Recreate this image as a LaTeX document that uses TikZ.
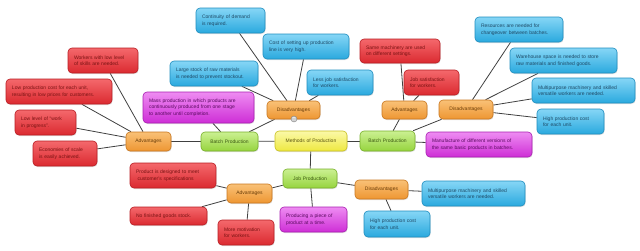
\documentclass[tikz,border=0pt]{standalone}
\usepackage{fontspec}
\setmainfont{Liberation Sans}
\usetikzlibrary{shadows,backgrounds}
\definecolor{redT}{HTML}{F4686C}\definecolor{redB}{HTML}{DB2A30}\definecolor{redD}{HTML}{B81C22}\definecolor{redX}{HTML}{7A1414}
\definecolor{bluT}{HTML}{86D6F6}\definecolor{bluB}{HTML}{2AA9DE}\definecolor{bluD}{HTML}{1E8DBF}\definecolor{bluX}{HTML}{1F4A66}
\definecolor{orgT}{HTML}{F9C177}\definecolor{orgB}{HTML}{EE9632}\definecolor{orgD}{HTML}{C8761E}\definecolor{orgX}{HTML}{6B3E0A}
\definecolor{grnT}{HTML}{CBF092}\definecolor{grnB}{HTML}{96D43E}\definecolor{grnD}{HTML}{78B02A}\definecolor{grnX}{HTML}{3C5A12}
\definecolor{ylwT}{HTML}{FBF9A8}\definecolor{ylwB}{HTML}{EEE840}\definecolor{ylwD}{HTML}{C8C020}\definecolor{ylwX}{HTML}{5A5510}
\definecolor{magT}{HTML}{EE8CF2}\definecolor{magB}{HTML}{CE2ED6}\definecolor{magD}{HTML}{A81EB0}\definecolor{magX}{HTML}{5A0A60}
\definecolor{edgeC}{HTML}{404040}
\newcommand\mmbox[7]{%
  \pgfmathsetmacro\mmw{#5-#3}\pgfmathsetmacro\mmh{#6-#4}%
  \pgfmathsetmacro\mmtw{#5-#3-12}%
  \node[#1, text width=\mmtw pt, minimum height=\mmh pt] (#2) at ({(#3+#5)/2},{(#4+#6)/2}) {#7};}
\tikzset{
  mmbase/.style={rounded corners=4pt, inner xsep=6pt, inner ysep=1pt, line width=0.6pt,
    font=\fontsize{5}{6.5}\selectfont, align=left,
    drop shadow={opacity=0.25, shadow xshift=0.6pt, shadow yshift=-1pt}},
  redbox/.style={mmbase, draw=redD, top color=redT, bottom color=redB, text=redX},
  blubox/.style={mmbase, draw=bluD, top color=bluT, bottom color=bluB, text=bluX},
  orgbox/.style={mmbase, draw=orgD, top color=orgT, bottom color=orgB, text=orgX, align=center},
  grnbox/.style={mmbase, draw=grnD, top color=grnT, bottom color=grnB, text=grnX, align=center},
  ylwbox/.style={mmbase, draw=ylwD, top color=ylwT, bottom color=ylwB, text=ylwX, align=center},
  magbox/.style={mmbase, draw=magD, top color=magT, bottom color=magB, text=magX},
  link/.style={draw=edgeC, line width=0.8pt},
}
\begin{document}
\begin{tikzpicture}[x=1pt,y=-1pt]
\useasboundingbox (0,0) rectangle (640,250);
% central
\mmbox{ylwbox}{methods}{275}{131}{347}{151}{Methods of Production}
\mmbox{grnbox}{batchL}{201}{132}{258}{151}{Batch Production}
\mmbox{grnbox}{batchR}{360}{131}{415}{151}{Batch Production}
\mmbox{grnbox}{job}{283}{169}{337}{188}{Job Production}
% left batch
\mmbox{orgbox}{advL}{126}{132}{171}{151}{Advantages}
\mmbox{orgbox}{disU}{267}{101}{320}{119}{Disadvantages}
\mmbox{magbox}{mass}{143}{92}{254}{123}{Mass production in which products are\\continuously produced from one stage\\to another until completion.}
\mmbox{redbox}{workers}{68}{48}{138}{73}{Workers with low level\\of skills are needed.}
\mmbox{redbox}{lowcost}{6}{79}{112}{104}{Low production cost for each unit,\\resulting in low prices for customers.}
\mmbox{redbox}{lowwip}{15}{110}{76}{135}{Low level of ``work\\in progress''.}
\mmbox{redbox}{econ}{33}{141}{97}{166}{Economies of scale\\is easily achieved.}
\mmbox{blubox}{contin}{196}{8}{265}{33}{Continuity of demand\\is required.}
\mmbox{blubox}{stock}{170}{61}{258}{86}{Large stock of raw materials\\is needed to prevent stockout.}
\mmbox{blubox}{setup}{263}{34}{349}{59}{Cost of setting up production\\line is very high.}
\mmbox{blubox}{lessjob}{307}{70}{373}{95}{Less job satisfaction\\for workers.}
\node[circle, draw=gray, fill=gray!35, inner sep=0pt, minimum size=6pt, font=\fontsize{5}{5}\selectfont, text=white] (minus) at (294,119) {\textbf{–}};
% right batch
\mmbox{orgbox}{advR}{382}{101}{427}{119}{Advantages}
\mmbox{orgbox}{disR}{439}{100}{493}{119}{Disadvantages}
\mmbox{magbox}{manuf}{426}{132}{532}{157}{Manufacture of different versions of\\ the same basic products in batches.}
\mmbox{redbox}{same}{360}{39}{440}{63}{Same machinery are used\\on different settings.}
\mmbox{redbox}{jobsat}{404}{70}{459}{95}{Job satisfaction\\for workers.}
\mmbox{blubox}{resources}{475}{17}{563}{42}{Resources are needed for\\changeover between batches.}
\mmbox{blubox}{warehouse}{510}{48}{617}{73}{Warehouse space is needed to store\\raw materials and finished goods.}
\mmbox{blubox}{multiT}{532}{78}{635}{103}{Multipurpose machinery and skilled\\versatile workers are needed.}
\mmbox{blubox}{hcT}{537}{109}{604}{134}{High production cost\\for each unit.}
% job
\mmbox{orgbox}{advB}{227}{184}{272}{203}{Advantages}
\mmbox{orgbox}{disB}{355}{180}{408}{199}{Disadvantages}
\mmbox{magbox}{produce}{280}{207}{347}{232}{Producing a piece of\\product at a time.}
\mmbox{redbox}{designed}{130}{163}{216}{188}{Product is designed to meet\\ \ customer's specifications}
\mmbox{redbox}{nostock}{130}{207}{207}{225}{No finished goods stock.}
\mmbox{redbox}{motiv}{218}{220}{274}{245}{More motivation\\for workers.}
\mmbox{blubox}{multiB}{422}{181}{525}{206}{Multipurpose machinery and skilled\\versatile workers are needed.}
\mmbox{blubox}{hcB}{364}{211}{430}{237}{High production cost\\for each unit.}
\begin{scope}[on background layer]
\draw[link] (methods) -- (batchL);
\draw[link] (methods) -- (batchR);
\draw[link] (methods) -- (job);
\draw[link] (batchL) -- (advL);
\draw[link] (batchL) -- (mass);
\draw[link] (batchL) -- (disU);
\draw[link] (advL) -- (workers);
\draw[link] (advL) -- (lowcost);
\draw[link] (advL) -- (lowwip);
\draw[link] (advL) -- (econ);
\draw[link] (disU) -- (contin);
\draw[link] (disU) -- (stock);
\draw[link] (disU) -- (setup);
\draw[link] (disU) -- (lessjob);
\draw[link] (batchR) -- (advR);
\draw[link] (batchR) -- (disR);
\draw[link] (batchR) -- (manuf);
\draw[link] (advR) -- (same);
\draw[link] (advR) -- (jobsat);
\draw[link] (disR) -- (resources);
\draw[link] (disR) -- (warehouse);
\draw[link] (disR) -- (multiT);
\draw[link] (disR) -- (hcT);
\draw[link] (job) -- (advB);
\draw[link] (job) -- (disB);
\draw[link] (job) -- (produce);
\draw[link] (advB) -- (designed);
\draw[link] (advB) -- (nostock);
\draw[link] (advB) -- (motiv);
\draw[link] (disB) -- (multiB);
\draw[link] (disB) -- (hcB);
\end{scope}
\end{tikzpicture}
\end{document}
